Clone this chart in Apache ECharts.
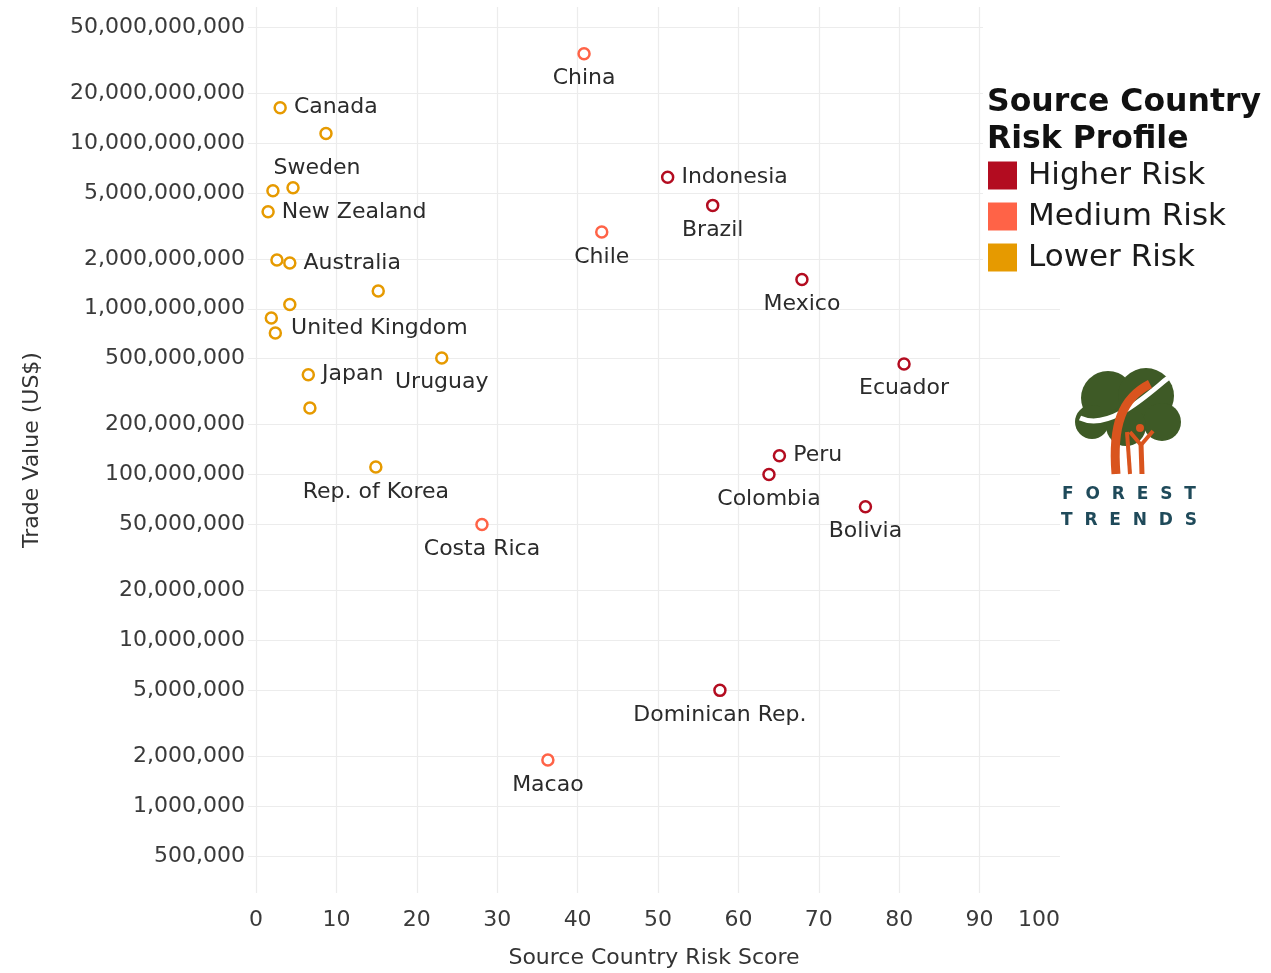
<!DOCTYPE html>
<html lang="en">
<head>
    <meta http-equiv="Content-Type" content="text/html; charset=utf-8" />
    <title>Source Country Risk Score vs Trade Value</title>
    <script src="https://cdn.jsdelivr.net/npm/echarts@6.0.0/dist/echarts.min.js"></script>
    <style>
        html, body { margin: 0; padding: 0; background: #fff; }
        #chart { width: 1271px; height: 973px; }
    </style>
</head>
<body>
<div id="chart"></div>
<script>
    // values (score, trade value in US$)
    var higherNames = ['Indonesia', 'Brazil', 'Mexico', 'Ecuador', 'Peru', 'Colombia', 'Bolivia', 'Dominican Rep.'];
    var higherScore = [51.2, 56.8, 67.9, 80.6, 65.1, 63.8, 75.8, 57.7];
    var higherValue = [6.2e9, 4.2e9, 1.5e9, 4.65e8, 1.3e8, 1.0e8, 6.4e7, 5.0e6];

    var mediumNames = ['China', 'Chile', 'Costa Rica', 'Macao'];
    var mediumScore = [40.8, 43.0, 28.1, 36.3];
    var mediumValue = [3.45e10, 2.9e9, 5.0e7, 1.9e6];

    var lowerNames = ['Canada', 'Sweden', '', '', 'New Zealand', '', 'Australia', '', '', '', 'United Kingdom', 'Uruguay', 'Japan', '', 'Rep. of Korea'];
    var lowerScore = [3.0, 8.7, 2.1, 4.6, 1.5, 2.6, 4.2, 15.2, 4.2, 1.9, 2.4, 23.1, 6.5, 6.7, 14.9];
    var lowerValue = [1.63e10, 1.14e10, 5.15e9, 5.37e9, 3.84e9, 1.97e9, 1.89e9, 1.28e9, 1.06e9, 8.8e8, 7.15e8, 5.05e8, 4.0e8, 2.52e8, 1.11e8];

    var yTicks = [5e5, 1e6, 2e6, 5e6, 1e7, 2e7, 5e7, 1e8, 2e8, 5e8, 1e9, 2e9, 5e9, 1e10, 2e10, 5e10];
    var xTicks = [0, 10, 20, 30, 40, 50, 60, 70, 80, 90, 100];
    var xGrid = [0, 10, 20, 30, 40, 50, 60, 70, 80, 90];

    // label placement (style only)
    var labelRight = ['Canada', 'New Zealand', 'Australia', 'United Kingdom', 'Japan', 'Indonesia', 'Peru'];
    var labelNudge = { 'Sweden': [-9, 10], 'United Kingdom': [2, -5] };

    var colors = { high: '#B30C20', medium: '#FF6347', low: '#E69A00' };
    var FONT = 'DejaVu Sans';

    function buildData(names, xs, ys) {
        var out = [];
        for (var i = 0; i < names.length; i++) {
            var n = names[i];
            var item = { name: n, value: [xs[i], ys[i]] };
            if (n) {
                item.label = {
                    show: true,
                    position: labelRight.indexOf(n) >= 0 ? 'right' : 'bottom',
                    offset: labelNudge[n] || [0, 0]
                };
            }
            out.push(item);
        }
        return out;
    }

    function makeSeries(name, color, data) {
        return {
            name: name,
            type: 'scatter',
            symbol: 'circle',
            symbolSize: 11,
            itemStyle: { color: '#fff', borderColor: color, borderWidth: 2.5, opacity: 1 },
            label: {
                show: false,
                formatter: '{b}',
                distance: 7,
                fontFamily: FONT,
                fontSize: 22,
                color: '#2b2b2b'
            },
            emphasis: { disabled: true },
            data: data
        };
    }

    var myChart = echarts.init(document.getElementById('chart'));

    var option = {
        backgroundColor: '#fff',
        animation: false,
        textStyle: { fontFamily: FONT },
        grid: {
            left: 248, right: 211, top: 7, bottom: 80,
            containLabel: false,
            outerBoundsMode: 'none'
        },
        xAxis: {
            type: 'value',
            min: -1,
            max: 100,
            name: 'Source Country Risk Score',
            nameLocation: 'middle',
            nameGap: 54,
            nameTextStyle: { fontFamily: FONT, fontSize: 22, color: '#333' },
            axisLine: { show: false },
            axisTick: { show: false, customValues: xGrid },
            axisLabel: {
                customValues: xTicks,
                margin: 16,
                fontFamily: FONT,
                fontSize: 22,
                color: '#3a3a3a',
                alignMaxLabel: 'right'
            },
            splitLine: { show: true, lineStyle: { color: '#ececec', width: 1.2 } }
        },
        yAxis: {
            type: 'log',
            logBase: 10,
            min: 3.0e5,
            max: 6.6e10,
            name: 'Trade Value (US$)',
            nameLocation: 'middle',
            nameGap: 205,
            nameTextStyle: { fontFamily: FONT, fontSize: 22, color: '#333' },
            axisLine: { show: false },
            axisTick: { show: false, customValues: yTicks },
            axisLabel: {
                customValues: yTicks,
                margin: 3,
                fontFamily: FONT,
                fontSize: 22,
                color: '#3a3a3a',
                formatter: function (v) {
                    return Math.round(v).toLocaleString('en-US');
                }
            },
            splitLine: { show: true, lineStyle: { color: '#ececec', width: 1.2 } }
        },
        legend: {
            orient: 'vertical',
            left: 988,
            top: 160,
            padding: 0,
            icon: 'rect',
            itemWidth: 29,
            itemHeight: 28,
            itemGap: 10,
            selectedMode: false,
            textStyle: { fontFamily: FONT, fontSize: 31, color: '#1a1a1a', padding: [0, 0, 0, 6] },
            data: [
                { name: 'Higher Risk', itemStyle: { color: colors.high, borderWidth: 0 } },
                { name: 'Medium Risk', itemStyle: { color: colors.medium, borderWidth: 0 } },
                { name: 'Lower Risk', itemStyle: { color: colors.low, borderWidth: 0 } }
            ]
        },
        graphic: [
            // white backing behind the legend, as in the original
            { type: 'rect', left: 983, top: 0, z: 1, shape: { width: 288, height: 288 }, style: { fill: '#fff' } },
            {
                type: 'text', left: 987, top: 84, z: 10,
                style: {
                    text: 'Source Country\nRisk Profile',
                    font: 'bold 31.5px "DejaVu Sans"',
                    lineHeight: 37,
                    fill: '#111'
                }
            },
            // Forest Trends logo (approximation)
            {
                type: 'group', z: 10,
                children: [
                    { type: 'circle', shape: { cx: 1108, cy: 398, r: 27 }, style: { fill: '#3E5A26' } },
                    { type: 'circle', shape: { cx: 1146, cy: 396, r: 28 }, style: { fill: '#3E5A26' } },
                    { type: 'circle', shape: { cx: 1092, cy: 422, r: 17 }, style: { fill: '#3E5A26' } },
                    { type: 'circle', shape: { cx: 1162, cy: 422, r: 19 }, style: { fill: '#3E5A26' } },
                    { type: 'circle', shape: { cx: 1126, cy: 426, r: 20 }, style: { fill: '#3E5A26' } },
                    {
                        type: 'bezierCurve',
                        shape: { x1: 1080, y1: 418, x2: 1168, y2: 378, cpx1: 1110, cpy1: 432, cpx2: 1150, cpy2: 392 },
                        style: { stroke: '#fff', lineWidth: 5, fill: null }
                    },
                    {
                        type: 'bezierCurve',
                        shape: { x1: 1116, y1: 474, x2: 1150, y2: 384, cpx1: 1112, cpy1: 425, cpx2: 1122, cpy2: 398 },
                        style: { stroke: '#D9541E', lineWidth: 9, fill: null }
                    },
                    {
                        type: 'line',
                        shape: { x1: 1130, y1: 474, x2: 1127, y2: 432 },
                        style: { stroke: '#D9541E', lineWidth: 4 }
                    },
                    { type: 'circle', shape: { cx: 1140, cy: 428, r: 4 }, style: { fill: '#D9541E' } },
                    {
                        type: 'polyline',
                        shape: { points: [[1130, 432], [1141, 445], [1153, 431]] },
                        style: { stroke: '#D9541E', lineWidth: 4, fill: null }
                    },
                    {
                        type: 'line',
                        shape: { x1: 1141, y1: 444, x2: 1142, y2: 474 },
                        style: { stroke: '#D9541E', lineWidth: 5 }
                    },
                    {
                        type: 'text', x: 1129, y: 495,
                        style: { text: 'F  O  R  E  S  T', font: 'bold 17px "DejaVu Sans"', fill: '#1F4A5A', align: 'center', verticalAlign: 'middle' }
                    },
                    {
                        type: 'text', x: 1129, y: 521,
                        style: { text: 'T  R  E  N  D  S', font: 'bold 17px "DejaVu Sans"', fill: '#1F4A5A', align: 'center', verticalAlign: 'middle' }
                    }
                ]
            }
        ],
        series: [
            makeSeries('Higher Risk', colors.high, buildData(higherNames, higherScore, higherValue)),
            makeSeries('Medium Risk', colors.medium, buildData(mediumNames, mediumScore, mediumValue)),
            makeSeries('Lower Risk', colors.low, buildData(lowerNames, lowerScore, lowerValue))
        ]
    };

    myChart.setOption(option);
</script>
</body>
</html>
